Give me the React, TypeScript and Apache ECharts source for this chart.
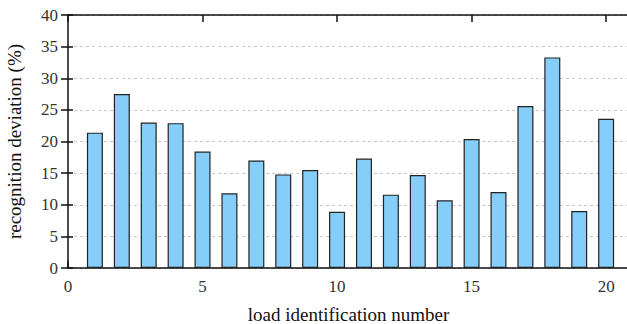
import React, { useEffect, useRef } from "react";
import * as echarts from "echarts";

const loadIds = [1, 2, 3, 4, 5, 6, 7, 8, 9, 10, 11, 12, 13, 14, 15, 16, 17, 18, 19, 20];
const deviations = [21.4, 27.5, 23.0, 22.9, 18.4, 11.8, 17.0, 14.8, 15.5, 8.9, 17.3, 11.6, 14.7, 10.7, 20.4, 12.0, 25.6, 33.3, 9.0, 23.6];
const xTitle = "load identification number";
const yTitle = "recognition deviation (%)";

const FONT = "Liberation Serif";
const INK = "#111111";

export default function App() {
  const ref = useRef<HTMLDivElement>(null);
  useEffect(() => {
    if (!ref.current) return;
    const chart = echarts.init(ref.current, undefined, { renderer: "svg" });
    chart.setOption({
      animation: false,
      textStyle: { fontFamily: FONT },
      grid: {
        left: 68, right: -2, top: 15, bottom: 56,
        containLabel: false, outerBoundsMode: "none",
      },
      xAxis: [
        {
          type: "value",
          position: "bottom",
          min: 0,
          max: 20.85,
          interval: 5,
          name: xTitle,
          nameLocation: "middle",
          nameGap: 37,
          nameTextStyle: { fontFamily: FONT, fontSize: 19, color: "#111" },
          axisLine: { show: true, onZero: false, lineStyle: { color: INK, width: 1.5 } },
          axisTick: { show: true, inside: true, length: 7, lineStyle: { color: INK, width: 1.5 } },
          axisLabel: {
            fontFamily: FONT,
            fontSize: 17,
            color: "#333",
            margin: 10,
            formatter: (v: number) => (v % 5 === 0 ? String(v) : ""),
          },
          splitLine: { show: false },
        },
        {
          type: "value",
          position: "top",
          min: 0,
          max: 20.85,
          interval: 5,
          axisLine: { show: true, onZero: false, lineStyle: { color: INK, width: 1.5 } },
          axisTick: { show: true, inside: true, length: 7, lineStyle: { color: INK, width: 1.5 } },
          axisLabel: { show: false },
          splitLine: { show: false },
        },
      ],
      yAxis: [
        {
          type: "value",
          position: "left",
          min: 0,
          max: 40,
          interval: 5,
          name: yTitle,
          nameLocation: "middle",
          nameGap: 44,
          nameTextStyle: { fontFamily: FONT, fontSize: 19, color: "#111" },
          axisLine: { show: true, onZero: false, lineStyle: { color: INK, width: 1.5 } },
          axisTick: { show: true, inside: true, length: 5, lineStyle: { color: INK, width: 1.5 } },
          axisLabel: { fontFamily: FONT, fontSize: 17, color: "#333", margin: 10 },
          splitLine: { show: true, lineStyle: { color: "#c8c8c8", type: [3, 3], width: 1 } },
        },
        {
          type: "value",
          position: "right",
          min: 0,
          max: 40,
          interval: 5,
          axisLine: { show: false },
          axisTick: { show: true, inside: true, length: 7, lineStyle: { color: INK, width: 1.5 } },
          axisLabel: { show: false },
          splitLine: { show: false },
        },
      ],
      series: [
        {
          type: "bar",
          xAxisIndex: 0,
          yAxisIndex: 0,
          barWidth: 16,
          data: loadIds.map((id, i) => [id, deviations[i]]),
          itemStyle: { color: "#85cefa", borderColor: "#222", borderWidth: 1.2 },
        },
      ],
    });
    return () => chart.dispose();
  }, []);
  return <div ref={ref} style={{ width: 627, height: 324, position: "absolute", left: 0, top: 0 }} />;
}
